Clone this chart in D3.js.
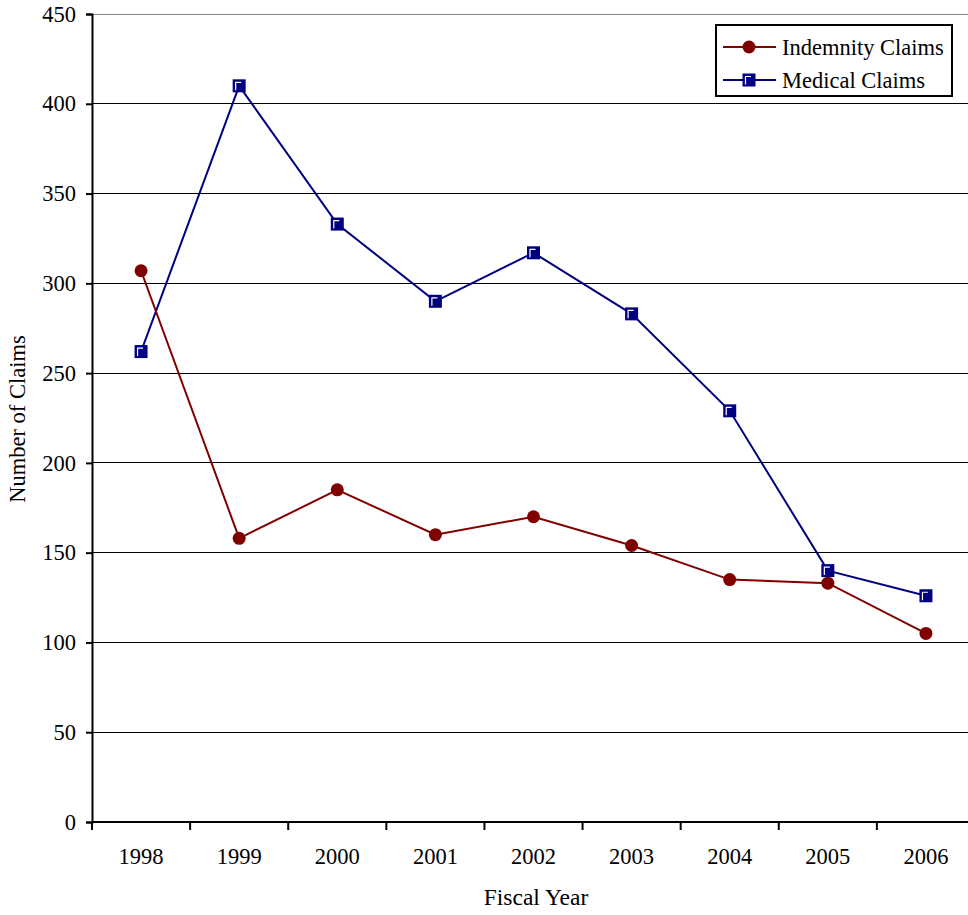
<!DOCTYPE html>
<html>
<head>
<meta charset="utf-8">
<script src="https://cdn.jsdelivr.net/npm/d3@7/dist/d3.min.js"></script>
<style>
  html, body { margin: 0; padding: 0; background: #fff; }
  svg { display: block; }
  text { font-family: "Liberation Serif", "Times New Roman", serif; fill: #000; }
</style>
</head>
<body>
<svg id="chart" width="968" height="915"></svg>
<script>
// Claims by fiscal year
const years = ["1998", "1999", "2000", "2001", "2002", "2003", "2004", "2005", "2006"];
const indemnityClaims = [307, 158, 185, 160, 170, 154, 135, 133, 105];
const medicalClaims = [262, 410, 333, 290, 317, 283, 229, 140, 126];
const yTicks = [0, 50, 100, 150, 200, 250, 300, 350, 400, 450];

const svg = d3.select("#chart");
const plotLeft = 92, plotRight = 975, plotTop = 14, plotBottom = 822;
const fontSize = "22.5px";

const x = d3.scaleBand().domain(years).range([plotLeft, plotRight]).padding(0);
const y = d3.scaleLinear().domain([0, 450]).range([plotBottom, plotTop]);

// horizontal gridlines
svg.append("g").selectAll("line")
  .data(yTicks.filter(d => d > 0))
  .join("line")
  .attr("x1", plotLeft).attr("x2", 968)
  .attr("y1", d => y(d)).attr("y2", d => y(d))
  .attr("stroke", d => d === 450 ? "#808080" : "#000")
  .attr("stroke-width", 1)
  .attr("shape-rendering", "crispEdges");

// y axis
const yAxis = svg.append("g")
  .attr("transform", `translate(${plotLeft},0)`)
  .call(d3.axisLeft(y).tickValues(yTicks).tickSize(6).tickPadding(10));
yAxis.select(".domain").attr("stroke", "#000").attr("stroke-width", 2);
yAxis.selectAll(".tick line").attr("stroke", "#000").attr("stroke-width", 2);
yAxis.selectAll(".tick text").style("font-size", fontSize)
  .style("font-family", "'Liberation Serif', serif");

// x axis: ticks at category boundaries, labels at centers
const xAxis = svg.append("g").attr("transform", `translate(0,${plotBottom})`);
xAxis.append("line").attr("x1", plotLeft).attr("x2", 968)
  .attr("stroke", "#000").attr("stroke-width", 2);
const bounds = years.map(d => x(d)).concat([x(years[years.length - 1]) + x.bandwidth()]);
xAxis.selectAll("line.tick").data(bounds).join("line").attr("class", "tick")
  .attr("x1", d => d).attr("x2", d => d).attr("y1", 0).attr("y2", 8)
  .attr("stroke", "#000").attr("stroke-width", 2);
xAxis.selectAll("text").data(years).join("text")
  .attr("x", d => x(d) + x.bandwidth() / 2)
  .attr("y", 42)
  .attr("text-anchor", "middle")
  .style("font-size", fontSize)
  .text(d => d);

// axis titles
svg.append("text")
  .attr("x", 536).attr("y", 905)
  .attr("text-anchor", "middle")
  .style("font-size", "23.5px")
  .text("Fiscal Year");
svg.append("text")
  .attr("transform", "translate(25,419) rotate(-90)")
  .attr("text-anchor", "middle")
  .style("font-size", fontSize)
  .text("Number of Claims");

const cx = d => x(d) + x.bandwidth() / 2;
const line = d3.line().x(d => cx(d.year)).y(d => y(d.value));

const indemnity = years.map((yr, i) => ({ year: yr, value: indemnityClaims[i] }));
const medical = years.map((yr, i) => ({ year: yr, value: medicalClaims[i] }));

const red = "#800000", navy = "#000080";

function squareMarker(g, px, py) {
  g.append("rect").attr("x", px - 6.5).attr("y", py - 6.5)
    .attr("width", 13).attr("height", 13).attr("fill", navy);
  g.append("path")
    .attr("d", `M${px - 3.5},${py + 4.5}V${py - 3.5}H${px + 2}`)
    .attr("fill", "none").attr("stroke", "#fff").attr("stroke-width", 1.2);
}

// medical series
svg.append("path").datum(medical)
  .attr("d", line).attr("fill", "none")
  .attr("stroke", navy).attr("stroke-width", 2);
const mg = svg.append("g");
medical.forEach(d => squareMarker(mg, cx(d.year), y(d.value)));

// indemnity series
svg.append("path").datum(indemnity)
  .attr("d", line).attr("fill", "none")
  .attr("stroke", red).attr("stroke-width", 2);
svg.append("g").selectAll("circle").data(indemnity).join("circle")
  .attr("cx", d => cx(d.year)).attr("cy", d => y(d.value))
  .attr("r", 6.5).attr("fill", red);

// legend
const lg = svg.append("g");
lg.append("rect").attr("x", 716).attr("y", 25).attr("width", 236).attr("height", 71)
  .attr("fill", "#fff").attr("stroke", "#000").attr("stroke-width", 2);
const legendItems = [
  { label: "Indemnity Claims", color: red, kind: "circle" },
  { label: "Medical Claims", color: navy, kind: "square" }
];
legendItems.forEach((it, i) => {
  const ly = 47 + i * 33;
  lg.append("line").attr("x1", 723).attr("x2", 776).attr("y1", ly).attr("y2", ly)
    .attr("stroke", it.color).attr("stroke-width", 2);
  if (it.kind === "circle") {
    lg.append("circle").attr("cx", 749).attr("cy", ly).attr("r", 6.5).attr("fill", it.color);
  } else {
    squareMarker(lg, 749, ly);
  }
  lg.append("text").attr("x", 782).attr("y", ly + 8)
    .style("font-size", fontSize).text(it.label);
});
</script>
</body>
</html>
